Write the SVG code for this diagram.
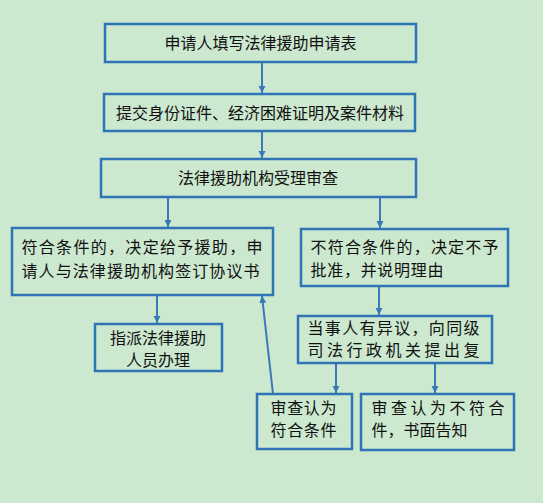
<svg xmlns="http://www.w3.org/2000/svg" width="543" height="503" viewBox="0 0 543 503">
<style>
.box{fill:none;stroke:#2E75B6;stroke-width:2.5}
.t{font-family:"Noto Sans CJK SC","Noto Sans",sans-serif;font-size:16px;fill:#111}
.m{text-anchor:middle}
.c{stroke:#3A78B8;stroke-width:2;fill:none}
</style>
<defs>
<marker id="ah" markerWidth="8" markerHeight="8" refX="7" refY="4" orient="auto" markerUnits="userSpaceOnUse">
<path d="M0,0.5 L7,4 L0,7.5 Z" fill="#3A78B8"/>
</marker>
</defs>
<rect width="543" height="503" fill="#CCE8CF"/>
<g id="connectors">
<line class="c" x1="262" y1="62" x2="262" y2="93" marker-end="url(#ah)"/>
<line class="c" x1="262" y1="131" x2="262" y2="158" marker-end="url(#ah)"/>
<line class="c" x1="168" y1="197" x2="168" y2="227" marker-end="url(#ah)"/>
<line class="c" x1="380" y1="197" x2="380" y2="228" marker-end="url(#ah)"/>
<line class="c" x1="157" y1="295" x2="157" y2="323" marker-end="url(#ah)"/>
<line class="c" x1="379" y1="286" x2="379" y2="315" marker-end="url(#ah)"/>
<line class="c" x1="336" y1="363" x2="336" y2="393" marker-end="url(#ah)"/>
<line class="c" x1="435" y1="363" x2="435" y2="393" marker-end="url(#ah)"/>
<line class="c" x1="273" y1="394" x2="262" y2="296" marker-end="url(#ah)"/>
</g>
<g id="n1">
<rect class="box" x="105" y="24" width="311" height="38"/>
<text class="t m" x="260.5" y="49">申请人填写法律援助申请表</text>
</g>
<g id="n2">
<rect class="box" x="104" y="94" width="311" height="37"/>
<text class="t m" x="260" y="119">提交身份证件、经济困难证明及案件材料</text>
</g>
<g id="n3">
<rect class="box" x="101" y="159" width="315" height="38"/>
<text class="t m" x="258" y="184">法律援助机构受理审查</text>
</g>
<g id="n4">
<rect class="box" x="12" y="228" width="261" height="67"/>
<text class="t" x="21.5" y="253" textLength="241" lengthAdjust="spacing">符合条件的，决定给予援助，申</text>
<text class="t" x="21.5" y="277" textLength="238" lengthAdjust="spacing">请人与法律援助机构签订协议书</text>
</g>
<g id="n5">
<rect class="box" x="95" y="324" width="127" height="47"/>
<text class="t m" x="158" y="344">指派法律援助</text>
<text class="t m" x="158" y="366">人员办理</text>
</g>
<g id="n6">
<rect class="box" x="301" y="229" width="207" height="57"/>
<text class="t" x="310.5" y="253" textLength="188" lengthAdjust="spacing">不符合条件的，决定不予</text>
<text class="t" x="310.5" y="276" textLength="133" lengthAdjust="spacing">批准，并说明理由</text>
</g>
<g id="n7">
<rect class="box" x="298" y="316" width="194" height="47"/>
<text class="t" x="307.5" y="334" textLength="172" lengthAdjust="spacing">当事人有异议，向同级</text>
<text class="t" x="307.5" y="356" textLength="172" lengthAdjust="spacing">司法行政机关提出复</text>
</g>
<g id="n8">
<rect class="box" x="257" y="394" width="95" height="55"/>
<text class="t" x="270.5" y="414" textLength="66" lengthAdjust="spacing">审查认为</text>
<text class="t" x="270.5" y="436" textLength="66" lengthAdjust="spacing">符合条件</text>
</g>
<g id="n9">
<rect class="box" x="361" y="394" width="153" height="56"/>
<text class="t" x="371.5" y="414" textLength="133" lengthAdjust="spacing">审查认为不符合</text>
<text class="t" x="371.5" y="436">件，书面告知</text>
</g>
</svg>
